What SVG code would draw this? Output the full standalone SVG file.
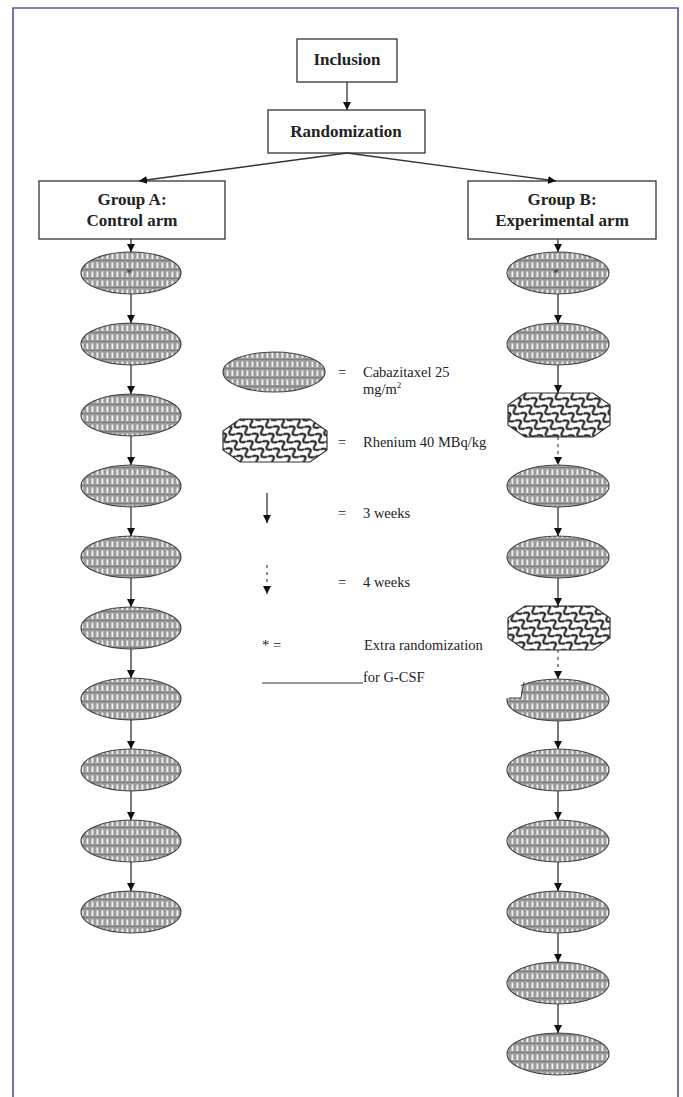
<svg xmlns="http://www.w3.org/2000/svg" width="683" height="1097" viewBox="0 0 683 1097">
<style>
.box{fill:#fff;stroke:#333;stroke-width:1.3}
.bt{font-family:"Liberation Serif",serif;font-weight:bold;font-size:17px;fill:#222;text-anchor:middle}
.lt{font-family:"Liberation Serif",serif;font-size:14.5px;fill:#222}
.cab{fill:url(#cabP);stroke:#444;stroke-width:1.1}
.rhe{fill:url(#rheP);stroke:#333;stroke-width:1.2}
.ar{stroke:#333;stroke-width:1.3;fill:none;marker-end:url(#ah)}
.da{stroke:#555;stroke-width:1.3;fill:none;stroke-dasharray:3,4;marker-end:url(#ah)}
.frame{stroke:#5a52a0;stroke-width:1.6;fill:none}
.ast{font-family:"Liberation Serif",serif;font-size:13px;fill:#33335a;text-anchor:middle}
</style>
<defs>
<pattern id="cabP" patternUnits="userSpaceOnUse" width="5" height="9">
<rect width="5" height="9" fill="#9c9c9c"/>
<rect x="1.5" y="1.5" width="1.8" height="5.5" fill="#f4f4f4"/>
<rect x="0" y="8" width="5" height="1" fill="#7e7e7e"/>
</pattern>
<pattern id="rheP" patternUnits="userSpaceOnUse" width="13" height="9" patternTransform="rotate(35)">
<rect width="13" height="9" fill="#fff"/>
<path d="M0,4.5 C3.25,0 6.5,0 6.5,4.5 S9.75,9 13,4.5" stroke="#222" stroke-width="2.1" fill="none"/>
</pattern>
<marker id="ah" markerUnits="userSpaceOnUse" markerWidth="9" markerHeight="9" refX="8" refY="4" orient="auto">
<path d="M0,0 L8,4 L0,8 z" fill="#111"/>
</marker>
</defs>
<rect width="683" height="1097" fill="#fff"/>
<path class="frame" d="M13,1097 L13,8 L678,8 L678,1097"/>

<g id="inclusion"><rect class="box" x="297" y="39" width="100" height="43"/><text class="bt" x="347" y="65">Inclusion</text></g>
<g id="randomization"><rect class="box" x="268" y="110" width="157" height="43"/><text class="bt" x="346" y="137">Randomization</text></g>
<g id="groupA"><rect class="box" x="39" y="181" width="186" height="58"/><text class="bt" x="132" y="205">Group A:</text><text class="bt" x="132" y="226">Control arm</text></g>
<g id="groupB"><rect class="box" x="468" y="181" width="188" height="58"/><text class="bt" x="562" y="205">Group B:</text><text class="bt" x="562" y="226">Experimental arm</text></g>

<g id="armA">
<ellipse class="cab" cx="131" cy="273" rx="50" ry="21"/>
<ellipse class="cab" cx="131" cy="344" rx="50" ry="21"/>
<ellipse class="cab" cx="131" cy="415" rx="50" ry="21"/>
<ellipse class="cab" cx="131" cy="486" rx="50" ry="21"/>
<ellipse class="cab" cx="131" cy="557" rx="50" ry="21"/>
<ellipse class="cab" cx="131" cy="628" rx="50" ry="21"/>
<ellipse class="cab" cx="131" cy="699" rx="50" ry="21"/>
<ellipse class="cab" cx="131" cy="770" rx="50" ry="21"/>
<ellipse class="cab" cx="131" cy="841" rx="50" ry="21"/>
<ellipse class="cab" cx="131" cy="912" rx="50" ry="21"/>
<text class="ast" x="129" y="277">*</text>
</g>

<g id="armB">
<ellipse class="cab" cx="558" cy="273" rx="51" ry="21"/>
<ellipse class="cab" cx="558" cy="344" rx="51" ry="21"/>
<polygon class="rhe" points="525,393 593,393 610,405 610,425 593,437 525,437 508,425 508,405"/>
<ellipse class="cab" cx="558" cy="486" rx="51" ry="21"/>
<ellipse class="cab" cx="558" cy="557" rx="51" ry="21"/>
<polygon class="rhe" points="525,606 593,606 610,618 610,638 593,650 525,650 508,638 508,618"/>
<ellipse class="cab" cx="558" cy="700" rx="51" ry="21"/>
<path d="M504,676 L521,676 L521,698 L504,698 z" fill="#fff"/>
<path d="M509,698 L521,698 L524,682" stroke="#444" stroke-width="1.1" fill="none"/>
<ellipse class="cab" cx="558" cy="770" rx="51" ry="21"/>
<ellipse class="cab" cx="558" cy="841" rx="51" ry="21"/>
<ellipse class="cab" cx="558" cy="912" rx="51" ry="21"/>
<ellipse class="cab" cx="558" cy="983" rx="51" ry="21"/>
<ellipse class="cab" cx="558" cy="1054" rx="51" ry="21"/>
<text class="ast" x="556" y="277">*</text>
</g>

<g id="connectors">
<line class="ar" x1="347" y1="82" x2="347" y2="110"/>
<line class="ar" x1="347" y1="153" x2="139" y2="181"/>
<line class="ar" x1="347" y1="153" x2="556" y2="181"/>
<line class="ar" x1="131" y1="239" x2="131" y2="252"/>
<line class="ar" x1="558" y1="239" x2="558" y2="252"/>
<line class="ar" x1="131" y1="294" x2="131" y2="323"/>
<line class="ar" x1="131" y1="365" x2="131" y2="394"/>
<line class="ar" x1="131" y1="436" x2="131" y2="465"/>
<line class="ar" x1="131" y1="507" x2="131" y2="536"/>
<line class="ar" x1="131" y1="578" x2="131" y2="607"/>
<line class="ar" x1="131" y1="649" x2="131" y2="678"/>
<line class="ar" x1="131" y1="720" x2="131" y2="749"/>
<line class="ar" x1="131" y1="791" x2="131" y2="820"/>
<line class="ar" x1="131" y1="862" x2="131" y2="891"/>
<line class="ar" x1="558" y1="294" x2="558" y2="323"/>
<line class="ar" x1="558" y1="365" x2="558" y2="393"/>
<line class="da" x1="558" y1="437" x2="558" y2="465"/>
<line class="ar" x1="558" y1="507" x2="558" y2="536"/>
<line class="ar" x1="558" y1="578" x2="558" y2="606"/>
<line class="da" x1="558" y1="650" x2="558" y2="679"/>
<line class="ar" x1="558" y1="721" x2="558" y2="749"/>
<line class="ar" x1="558" y1="791" x2="558" y2="820"/>
<line class="ar" x1="558" y1="862" x2="558" y2="891"/>
<line class="ar" x1="558" y1="933" x2="558" y2="962"/>
<line class="ar" x1="558" y1="1004" x2="558" y2="1033"/>
</g>

<g id="legend">
<ellipse class="cab" cx="274" cy="372" rx="51" ry="20"/>
<text class="lt" x="338" y="377">=</text>
<text class="lt" x="363" y="377">Cabazitaxel 25</text>
<text class="lt" x="363" y="394">mg/m<tspan font-size="9" dy="-6">2</tspan></text>
<polygon class="rhe" points="240,419 310,419 327,431 327,450 310,462 240,462 223,450 223,431"/>
<text class="lt" x="338" y="447">=</text>
<text class="lt" x="363" y="447">Rhenium 40 MBq/kg</text>
<line class="ar" x1="267" y1="493" x2="267" y2="523"/>
<text class="lt" x="338" y="518">=</text>
<text class="lt" x="363" y="518">3 weeks</text>
<line class="da" x1="267" y1="565" x2="267" y2="594"/>
<text class="lt" x="338" y="587">=</text>
<text class="lt" x="363" y="587">4 weeks</text>
<text class="lt" x="262" y="650">* =</text>
<text class="lt" x="364" y="650">Extra randomization</text>
<text class="lt" x="363" y="682">for G-CSF</text>
<line x1="262" y1="683" x2="363" y2="683" stroke="#333" stroke-width="1"/>
</g>
</svg>
